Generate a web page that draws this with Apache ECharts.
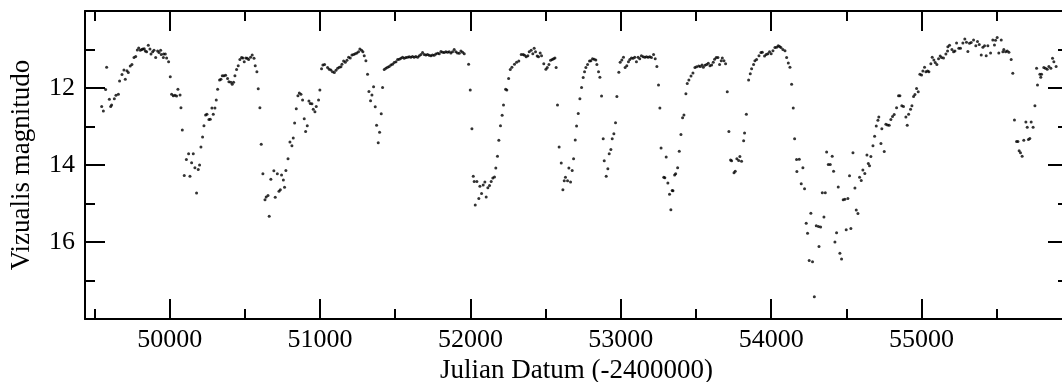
<!DOCTYPE html>
<html>
<head>
<meta charset="utf-8">
<script src="https://cdn.jsdelivr.net/npm/echarts@6/dist/echarts.min.js"></script>
<style>
html,body{margin:0;padding:0;background:#fff;}
#chart{width:1062px;height:382px;}
</style>
</head>
<body>
<div id="chart"></div>
<script>
// Light curve: [Julian Date - 2400000, visual magnitude]
const cycle1 = [[49548,12.48],[49559,12.60],[49574,12.04],[49581,11.46],[49599,12.29],[49608,12.48],[49614,12.44],[49632,12.28],[49643,12.19],[49659,12.16],[49667,11.82],[49683,11.65],[49696,11.53],[49705,11.77],[49716,11.55],[49725,11.60],[49738,11.43],[49749,11.39],[49763,11.21],[49774,11.18],[49785,11.01],[49794,10.96],[49805,11.02],[49814,11.00],[49822,10.99],[49831,10.98],[49838,11.04],[49847,11.06],[49858,10.89],[49869,10.99],[49876,11.12],[49887,11.06],[49896,11.02],[49907,11.21],[49920,11.04],[49929,11.08],[49940,11.02],[49944,11.13],[49958,11.21],[49960,11.12],[49971,11.12],[49980,11.22],[49993,11.32],[50004,11.71],[50013,12.16],[50024,12.20],[50035,12.19],[50046,12.21],[50055,12.03],[50069,12.18],[50075,12.51],[50084,13.09],[50097,14.27],[50111,13.86],[50126,13.71],[50135,14.29],[50146,13.94],[50157,13.71],[50168,14.07],[50179,14.73],[50190,14.12],[50199,14.00],[50208,13.53],[50219,13.27],[50228,12.98],[50239,12.70],[50248,12.68],[50261,12.82],[50270,12.81],[50281,12.52],[50290,12.68],[50301,12.52],[50310,12.31],[50319,12.03],[50332,11.79],[50341,11.77],[50350,11.68],[50361,11.68],[50372,11.67],[50385,11.75],[50394,11.84],[50407,11.85],[50416,11.90],[50425,11.85],[50434,11.68],[50445,11.52],[50456,11.42],[50467,11.26],[50478,11.21],[50487,11.22],[50496,11.32],[50507,11.22],[50516,11.23],[50525,11.26],[50538,11.20],[50549,11.14],[50561,11.23],[50569,11.42],[50580,11.58],[50589,12.02],[50600,12.51],[50609,13.46],[50620,14.23],[50634,14.90],[50642,14.83],[50654,14.79],[50662,15.33],[50673,14.37],[50693,14.15],[50702,14.84],[50716,14.23],[50727,14.68],[50736,14.64]];

const cycle2 = [[50744,14.26],[50756,14.39],[50764,14.58],[50773,14.14],[50787,13.84],[50800,13.40],[50813,13.50],[50822,13.30],[50831,12.91],[50842,12.54],[50853,12.20],[50862,12.13],[50873,12.16],[50884,12.31],[50895,12.80],[50904,13.13],[50915,12.98],[50926,12.34],[50935,12.40],[50946,12.41],[50955,12.55],[50966,12.62],[50975,12.48],[50990,12.31],[50999,12.05],[51010,11.50],[51019,11.40],[51030,11.39],[51050,11.47],[51061,11.51],[51072,11.53],[51083,11.58],[51095,11.60],[51106,11.54],[51117,11.49],[51128,11.46],[51139,11.45],[51146,11.38],[51157,11.30],[51168,11.33],[51179,11.28],[51190,11.20],[51201,11.22],[51212,11.14],[51223,11.13],[51234,11.11],[51245,11.09],[51256,11.06],[51265,10.99],[51276,11.02],[51285,11.06],[51294,11.16],[51305,11.29],[51316,11.64],[51325,12.09],[51336,12.33],[51345,12.18],[51356,11.97],[51367,12.49],[51376,12.97],[51387,13.42],[51396,13.15],[51407,12.67],[51416,11.99],[51427,11.52]];

const plateau = [[51438,11.49],[51449,11.46],[51460,11.44],[51471,11.40],[51482,11.38],[51493,11.34],[51505,11.32],[51516,11.26],[51527,11.25],[51538,11.23],[51549,11.20],[51560,11.23],[51571,11.21],[51582,11.20],[51593,11.19],[51604,11.20],[51615,11.18],[51626,11.20],[51637,11.18],[51649,11.20],[51660,11.16],[51671,11.13],[51682,11.08],[51693,11.13],[51704,11.14],[51715,11.13],[51726,11.15],[51737,11.16],[51748,11.14],[51759,11.15],[51770,11.12],[51782,11.10],[51793,11.11],[51804,11.05],[51815,11.07],[51826,11.08],[51837,11.06],[51848,11.07],[51859,11.06],[51870,11.09],[51881,11.06],[51892,11.00],[51903,11.06],[51914,11.09],[51926,11.10],[51937,11.04],[51948,11.07],[51959,11.11],[51988,11.38],[51999,12.05],[52010,13.06],[52019,14.29],[52025,14.43],[52032,15.04]];

const cycle3 = [[52043,14.43],[52056,14.87],[52063,14.55],[52074,14.74],[52085,14.52],[52096,14.44],[52105,14.83],[52116,14.59],[52127,14.53],[52138,14.43],[52149,14.34],[52160,14.31],[52169,14.08],[52180,13.77],[52189,13.36],[52200,12.98],[52211,12.71],[52220,12.44],[52234,12.03],[52242,12.05],[52254,11.75],[52265,11.52],[52276,11.46],[52293,11.38],[52307,11.33],[52322,11.30],[52338,11.13],[52351,11.13],[52360,11.15],[52371,11.19],[52382,11.16],[52391,11.06],[52404,11.02],[52415,11.11],[52424,10.97],[52433,11.06],[52444,11.17],[52453,11.19],[52464,11.09],[52473,11.16],[52488,11.37],[52502,11.51],[52511,11.47],[52522,11.39],[52533,11.28],[52544,11.26],[52553,11.24],[52562,11.22],[52570,11.47],[52579,12.44],[52590,13.53],[52604,13.95],[52615,14.64],[52624,14.41],[52632,14.32],[52646,14.41],[52655,14.08],[52666,14.44],[52677,14.14],[52686,13.84],[52697,13.35],[52706,12.99],[52717,12.66],[52728,12.28],[52739,11.99],[52750,11.73],[52759,11.58],[52768,11.47],[52779,11.39],[52792,11.30],[52801,11.29],[52812,11.24],[52823,11.25],[52834,11.27],[52841,11.39],[52852,11.58],[52861,11.72],[52872,12.21],[52883,13.32],[52890,13.89],[52903,14.29],[52914,14.10],[52923,13.71],[52934,13.60],[52943,13.32],[52954,13.19],[52965,12.90],[52974,12.22],[52987,11.59],[52996,11.33],[53007,11.27],[53018,11.20],[53029,11.47],[53040,11.42],[53051,11.32],[53060,11.26],[53071,11.22],[53082,11.23],[53093,11.20],[53104,11.32],[53115,11.20],[53126,11.24],[53137,11.16],[53149,11.19],[53160,11.20],[53171,11.19],[53182,11.20],[53193,11.19],[53204,11.21],[53218,11.13],[53229,11.24],[53240,11.44],[53251,11.92],[53260,12.52],[53268,13.56],[53286,14.32],[53293,14.33],[53302,13.79],[53313,14.47],[53324,14.76],[53333,15.16],[53342,14.66]];

const cycle4 = [[53347,14.67],[53358,14.26],[53365,14.23],[53378,14.07],[53389,13.64],[53400,13.21],[53411,12.77],[53420,12.70],[53433,12.15],[53442,11.88],[53453,11.79],[53467,11.69],[53480,11.61],[53493,11.47],[53504,11.45],[53518,11.43],[53529,11.44],[53540,11.40],[53549,11.46],[53560,11.41],[53571,11.39],[53582,11.36],[53593,11.42],[53604,11.40],[53615,11.33],[53624,11.25],[53635,11.21],[53646,11.21],[53657,11.39],[53668,11.29],[53675,11.22],[53686,11.29],[53697,11.37],[53708,12.10],[53719,13.13],[53730,13.87],[53737,13.89],[53753,14.20],[53761,14.16],[53772,13.84],[53784,13.88],[53792,13.78],[53803,13.90],[53817,13.37],[53823,13.17],[53835,12.68],[53850,11.79],[53861,11.63],[53870,11.50],[53883,11.39],[53892,11.29],[53903,11.26],[53919,11.16],[53932,11.08],[53941,11.07],[53956,11.17],[53967,11.13],[53978,11.11],[53989,11.06],[54000,11.11],[54012,11.03],[54025,10.95],[54036,10.94],[54047,10.90],[54056,10.92],[54065,10.95],[54078,11.00],[54092,11.03],[54103,11.21],[54114,11.35],[54125,11.46],[54136,11.90],[54147,12.52],[54156,13.32],[54169,13.86],[54171,14.17],[54187,13.85],[54200,14.49],[54211,14.07],[54222,14.62],[54233,15.51],[54242,15.77],[54253,16.48],[54264,15.25],[54275,16.51],[54287,17.42],[54300,15.58],[54315,15.60],[54318,16.12],[54329,15.61],[54340,14.72],[54351,15.35],[54360,14.72],[54369,13.66],[54380,13.99],[54393,13.99],[54406,13.77],[54415,14.16],[54424,16.00],[54435,15.76],[54446,14.57],[54457,16.29],[54468,16.44],[54479,14.90],[54490,14.89],[54499,15.68],[54510,14.87],[54521,14.28],[54530,15.65],[54544,13.68],[54557,14.60],[54566,15.17],[54577,15.26],[54588,14.32],[54599,14.40],[54610,14.13],[54623,14.22],[54637,13.74],[54646,13.96]];

const cycle5 = [[54654,14.02],[54663,13.78],[54677,13.50],[54688,13.25],[54699,12.99],[54710,12.84],[54716,12.75],[54730,13.44],[54736,13.06],[54752,13.65],[54763,12.94],[54774,12.96],[54785,12.97],[54796,12.82],[54807,12.74],[54818,12.69],[54834,12.51],[54847,12.20],[54856,12.20],[54869,12.46],[54880,12.48],[54896,12.75],[54905,12.97],[54914,12.68],[54927,12.55],[54936,12.46],[54947,12.22],[54956,12.17],[54967,12.01],[54978,12.10],[54989,11.64],[55000,11.66],[55009,11.56],[55020,11.46],[55029,11.58],[55040,11.56],[55049,11.58],[55062,11.37],[55071,11.20],[55082,11.27],[55091,11.34],[55102,11.39],[55113,11.24],[55124,11.17],[55133,11.21],[55146,11.22],[55162,11.12],[55173,11.04],[55175,10.93],[55186,10.89],[55202,11.00],[55213,11.06],[55222,11.04],[55233,10.83],[55248,10.97],[55259,10.97],[55275,10.83],[55288,10.73],[55299,10.81],[55308,11.05],[55319,10.84],[55330,10.82],[55346,10.75],[55361,10.90],[55372,10.79],[55384,10.87],[55397,11.14],[55408,10.94],[55419,10.90],[55430,11.16],[55441,10.90],[55459,11.09],[55474,10.75],[55485,10.88],[55492,10.76],[55503,10.69],[55514,11.09],[55530,10.75],[55541,11.06],[55547,11.00],[55559,11.06],[55570,11.04],[55581,11.07],[55596,11.26],[55607,11.62],[55618,12.83],[55632,13.39],[55641,13.39],[55649,13.63],[55658,13.68],[55669,13.77],[55680,13.36],[55694,12.88],[55703,13.02],[55711,13.34],[55720,13.31],[55729,12.88],[55742,13.02],[55754,12.46],[55765,11.49],[55771,11.92],[55787,11.64],[55793,11.72],[55798,11.64],[55813,11.47],[55824,11.49],[55836,11.51],[55847,11.44],[55860,11.49],[55871,11.23],[55880,11.32],[55895,11.44]];

const xMajorTicks = [50000, 51000, 52000, 53000, 54000, 55000];
const xMinorTicks = [49500, 50500, 51500, 52500, 53500, 54500, 55500];
const yLabelValues = [12, 14, 16];
const xTitle = 'Julian Datum (-2400000)';
const yTitle = 'Vizualis magnitudo';

const X_MIN = 49437, X_MAX = 55974;
const FONT = 'Liberation Serif, Times New Roman, serif';

const allPoints = [].concat(cycle1, cycle2, plateau, cycle3, cycle4, cycle5);

const lineStyle = {color: '#000', width: 2};
const tickStyle = {color: '#000', width: 2};

function xAxisDef(position, ticks, len, showLine, showLabel, name) {
  return {
    type: 'value', gridIndex: 0, position: position, min: X_MIN, max: X_MAX,
    name: name || '', nameLocation: 'middle', nameGap: 36,
    nameTextStyle: {fontFamily: FONT, fontSize: 27, color: '#000'},
    axisLine: {show: showLine, onZero: false, lineStyle: lineStyle},
    axisTick: {show: true, inside: true, length: len, lineStyle: tickStyle, customValues: ticks},
    axisLabel: {show: showLabel, margin: 8, fontFamily: FONT, fontSize: 26, color: '#000', customValues: ticks, formatter: v => String(v)},
    splitLine: {show: false}, minorTick: {show: false}, minorSplitLine: {show: false}
  };
}

function yAxisDef(position, showLabel, name) {
  return {
    type: 'value', gridIndex: 0, position: position, min: 10, max: 18, interval: 2, inverse: true,
    name: name || '', nameLocation: 'middle', nameGap: 50, nameRotate: 90,
    nameTextStyle: {fontFamily: FONT, fontSize: 27, color: '#000'},
    axisLine: {show: true, onZero: false, lineStyle: lineStyle},
    axisTick: {show: true, inside: true, length: 20, lineStyle: tickStyle},
    minorTick: {show: true, splitNumber: 2, length: 10, lineStyle: tickStyle},
    axisLabel: {show: showLabel, margin: 10, fontFamily: FONT, fontSize: 26, color: '#000',
      formatter: v => (yLabelValues.indexOf(v) >= 0 ? String(v) : '')},
    splitLine: {show: false}, minorSplitLine: {show: false}
  };
}

const chart = echarts.init(document.getElementById('chart'), null, {renderer: 'canvas'});
chart.setOption({
  animation: false,
  backgroundColor: '#fff',
  grid: {left: 85, top: 11, width: 983, height: 308, containLabel: false, outerBoundsMode: 'none'},
  xAxis: [
    xAxisDef('bottom', xMajorTicks, 20, true, true, xTitle),
    xAxisDef('bottom', xMinorTicks, 10, false, false),
    xAxisDef('top', xMajorTicks, 20, true, false),
    xAxisDef('top', xMinorTicks, 10, false, false)
  ],
  yAxis: [
    yAxisDef('left', true, yTitle),
    yAxisDef('right', false)
  ],
  series: [{
    type: 'scatter', xAxisIndex: 0, yAxisIndex: 0,
    symbol: 'circle', symbolSize: 3,
    itemStyle: {color: '#000'},
    data: allPoints
  }]
});
</script>
</body>
</html>
